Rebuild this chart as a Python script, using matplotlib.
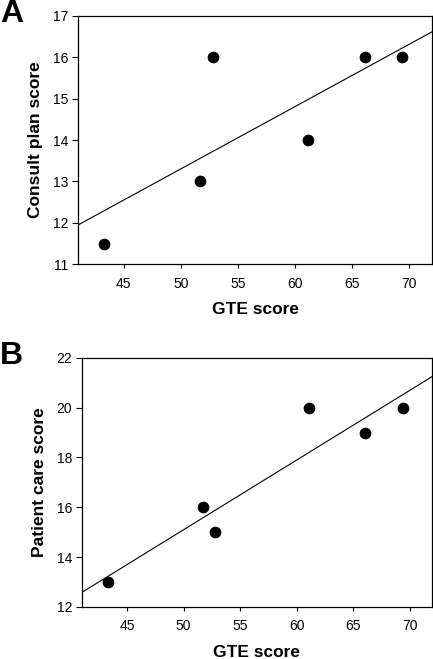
import numpy as np
import matplotlib
matplotlib.use("Agg")
import matplotlib.pyplot as plt

plt.rcParams['font.family'] = ['Liberation Sans', 'DejaVu Sans']

# GTE score for each resident (same in both panels)
gte = [43.3, 51.7, 52.8, 61.1, 66.1, 69.4]
# panel A / B scores
consult_plan = [11.5, 13, 16, 14, 16, 16]
patient_care = [13, 16, 15, 20, 19, 20]

x_ticks = [45, 50, 55, 60, 65, 70]
a_yticks = [11, 12, 13, 14, 15, 16, 17]
b_yticks = [12, 14, 16, 18, 20, 22]

fig = plt.figure(figsize=(4.33, 6.59), dpi=100)
ax_a = fig.add_axes([0.180, 0.599, 0.818, 0.377])
ax_b = fig.add_axes([0.189, 0.079, 0.809, 0.378])


def draw_panel(ax, y, yticks, ylabel):
    x = np.array(gte)
    slope, icpt = np.polyfit(x, np.array(y), 1)
    xl = np.array([41, 72])
    ax.plot(xl, slope * xl + icpt, color='black', lw=0.8)
    ax.scatter(x, y, s=55, color='black', zorder=3)
    ax.set_xlim(41, 72)
    ax.set_ylim(yticks[0], yticks[-1])
    ax.set_xticks(x_ticks)
    ax.set_yticks(yticks)
    ax.tick_params(direction='out', width=0.8, labelsize=10)
    ax.tick_params(axis='x', length=3, pad=6)
    ax.tick_params(axis='y', length=4, pad=3)
    for s in ax.spines.values():
        s.set_linewidth(0.9)
    ax.set_xlabel('GTE score', fontsize=12.5, fontweight='bold', labelpad=8)
    ax.set_ylabel(ylabel, fontsize=12.5, fontweight='bold', labelpad=7)


draw_panel(ax_a, consult_plan, a_yticks, 'Consult plan score')
draw_panel(ax_b, patient_care, b_yticks, 'Patient care score')

# panel letters, placed by baseline
fig.text(0.0, 0.966, 'A', fontsize=23, fontweight='bold', ha='left', va='baseline')
fig.text(0.0, 0.447, 'B', fontsize=23, fontweight='bold', ha='left', va='baseline')

fig.savefig('out.png', dpi=100)
